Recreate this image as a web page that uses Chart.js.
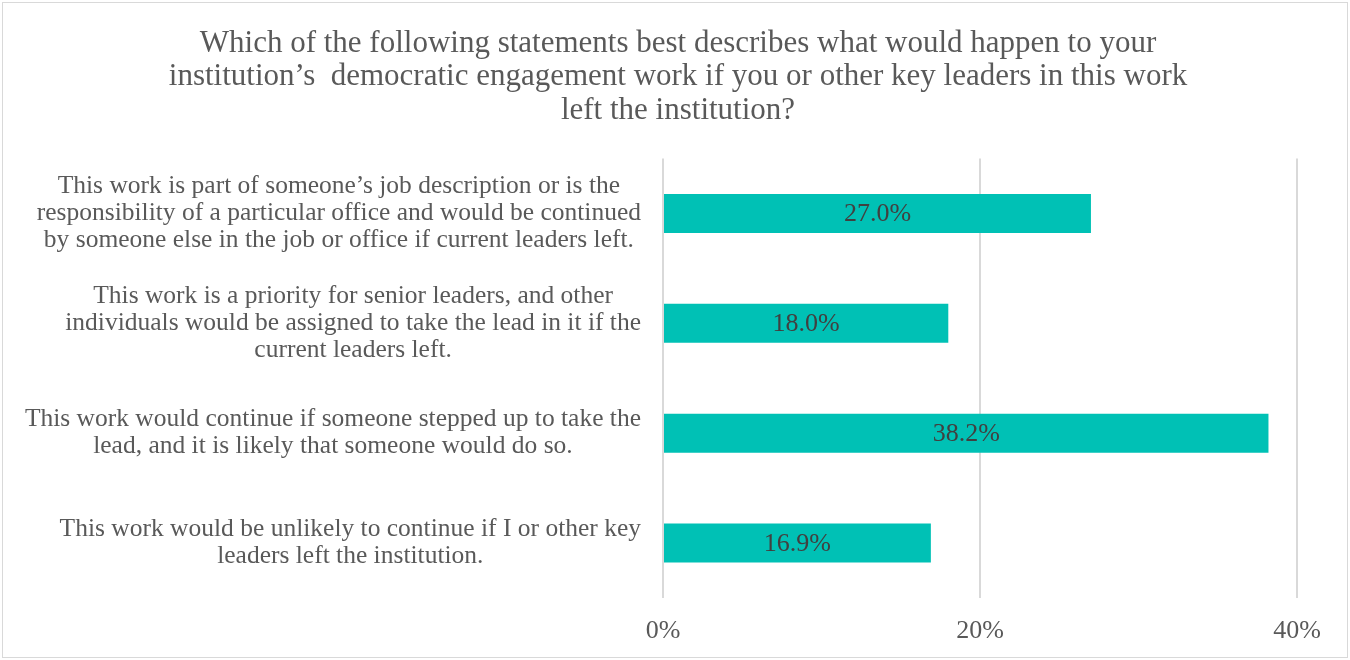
<!DOCTYPE html>
<html>
<head>
<meta charset="utf-8">
<script src="https://cdn.jsdelivr.net/npm/chart.js@4"></script>
<style>
    html, body { margin: 0; padding: 0; background: #fff; }
    #wrap { position: absolute; left: 0; top: 0; width: 1350px; height: 660px; }
    #frame {
        position: absolute; left: 2px; top: 2px; width: 1344px; height: 654px;
        border: 1px solid #d9d9d9; pointer-events: none;
    }
</style>
</head>
<body>
<div id="wrap"><canvas id="chart" width="1350" height="660"></canvas></div>
<div id="frame"></div>
<script>
const FONT = '"Liberation Serif", "DejaVu Serif", serif';

const titleLines = [
    'Which of the following statements best describes what would happen to your',
    'institution\u2019s  democratic engagement work if you or other key leaders in this work',
    'left the institution?'
];

// Each statement is pre-wrapped into its display lines
const statements = [
    ['This work is part of someone\u2019s job description or is the',
     'responsibility of a particular office and would be continued',
     'by someone else in the job or office if current leaders left.'],
    ['This work is a priority for senior leaders, and other',
     'individuals would be assigned to take the lead in it if the',
     'current leaders left.'],
    ['This work would continue if someone stepped up to take the',
     'lead, and it is likely that someone would do so.'],
    ['This work would be unlikely to continue if I or other key',
     'leaders left the institution.']
];

const shares = [27.0, 18.0, 38.2, 16.9];

const axisTicks = [0, 20, 40];

/**
 * Category labels: each block is right aligned against the axis,
 * with its lines centred inside the block
 */
const statementLabels = {
    id: 'statementLabels',
    afterDraw(chart) {
        const { ctx, scales: { y } } = chart;
        const rightEdge = y.right - 22;
        const lineHeight = 27;
        ctx.save();
        ctx.font = '25.5px ' + FONT;
        ctx.fillStyle = '#595959';
        ctx.textAlign = 'center';
        ctx.textBaseline = 'middle';
        statements.forEach((lines, i) => {
            const blockWidth = Math.max(...lines.map(l => ctx.measureText(l).width));
            const cx = rightEdge - blockWidth / 2;
            const cy = y.getPixelForTick(i);
            const top = cy - (lines.length - 1) * lineHeight / 2;
            lines.forEach((line, j) => ctx.fillText(line, cx, top + j * lineHeight));
        });
        ctx.restore();
    }
};

/**
 * Value labels in the middle of each bar
 */
const valueLabels = {
    id: 'valueLabels',
    afterDatasetsDraw(chart) {
        const { ctx } = chart;
        const meta = chart.getDatasetMeta(0);
        ctx.save();
        ctx.font = '26px ' + FONT;
        ctx.fillStyle = '#404040';
        ctx.textAlign = 'center';
        ctx.textBaseline = 'middle';
        meta.data.forEach((bar, i) => {
            const value = chart.data.datasets[0].data[i];
            ctx.fillText(value.toFixed(1) + '%', (bar.x + bar.base) / 2, bar.y + 1);
        });
        ctx.restore();
    }
};

new Chart(document.getElementById('chart'), {
    type: 'bar',
    data: {
        labels: statements.map(lines => lines.join(' ')),
        datasets: [{
            data: shares,
            backgroundColor: '#00C1B5',
            borderWidth: 0,
            barPercentage: 0.355,
            categoryPercentage: 1
        }]
    },
    options: {
        indexAxis: 'y',
        responsive: false,
        animation: false,
        layout: { padding: { left: 59, right: 53, top: 0, bottom: 0 } },
        plugins: {
            legend: { display: false },
            tooltip: { enabled: false },
            title: {
                display: true,
                text: titleLines,
                color: '#595959',
                font: { family: FONT, size: 31, weight: 'normal', lineHeight: 1.08 },
                padding: { top: 27, bottom: 31 }
            }
        },
        scales: {
            x: {
                min: 0,
                max: 40,
                afterBuildTicks: (scale) => {
                    scale.ticks = axisTicks.map(v => ({ value: v }));
                },
                afterFit: (scale) => { scale.height = 62; },
                grid: { color: '#d9d9d9', lineWidth: 2, drawTicks: false },
                border: { display: false },
                ticks: {
                    color: '#595959',
                    font: { family: FONT, size: 26 },
                    padding: 18,
                    callback: (v) => v + '%'
                }
            },
            y: {
                afterFit: (scale) => { scale.width = 604; },
                grid: { display: false },
                border: { display: false },
                ticks: { display: false }
            }
        }
    },
    plugins: [statementLabels, valueLabels]
});
</script>
</body>
</html>
